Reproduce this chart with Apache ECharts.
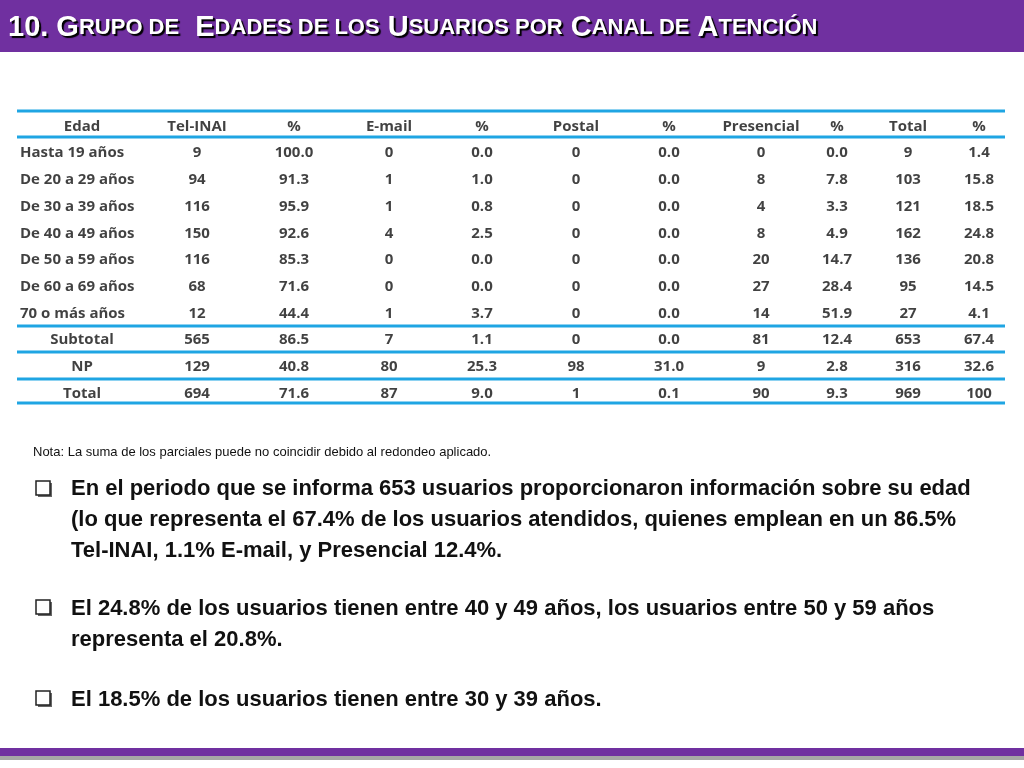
<!DOCTYPE html>
<html><head><meta charset="utf-8">
<script src="https://cdn.jsdelivr.net/npm/echarts@6/dist/echarts.min.js"></script>
<style>html,body{margin:0;padding:0;background:#fff}#c{width:1024px;height:768px}</style>
</head><body><div id="c"></div>
<script>
const headers = ['Edad','Tel-INAI','%','E-mail','%','Postal','%','Presencial','%','Total','%'];
const rowLabels = ['Hasta 19 años','De 20 a 29 años','De 30 a 39 años','De 40 a 49 años','De 50 a 59 años','De 60 a 69 años','70 o más años','Subtotal','NP','Total'];
const telInai = [9,94,116,150,116,68,12,565,129,694];
const telPct = ['100.0','91.3','95.9','92.6','85.3','71.6','44.4','86.5','40.8','71.6'];
const email = [0,1,1,4,0,0,1,7,80,87];
const emailPct = ['0.0','1.0','0.8','2.5','0.0','0.0','3.7','1.1','25.3','9.0'];
const postal = [0,0,0,0,0,0,0,0,98,1];
const postalPct = ['0.0','0.0','0.0','0.0','0.0','0.0','0.0','0.0','31.0','0.1'];
const presencial = [0,8,4,8,20,27,14,81,9,90];
const presPct = ['0.0','7.8','3.3','4.9','14.7','28.4','51.9','12.4','2.8','9.3'];
const total = [9,103,121,162,136,95,27,653,316,969];
const totalPct = ['1.4','15.8','18.5','24.8','20.8','14.5','4.1','67.4','32.6','100'];

// layout (pixel column centres on a 0..1024 value axis)
const colX = [82,197,294,389,482,576,669,761,837,908,979];
const leftX = 20;
const columns = [rowLabels, telInai, telPct, email, emailPct, postal, postalPct, presencial, presPct, total, totalPct];
const rowsCat = ['h'].concat(rowLabels.map((_, i) => 'r' + i));

const cellsCenter = [], cellsLeft = [];
headers.forEach((h, c) => cellsCenter.push({value:[colX[c], 'h'], label:h}));
columns.forEach((col, c) => col.forEach((v, r) => {
  if (c === 0 && r < 7) cellsLeft.push({value:[leftX, 'r'+r], label:String(v)});
  else cellsCenter.push({value:[colX[c], 'r'+r], label:String(v)});
}));

const F = '"Open Sans", "Liberation Sans", sans-serif';
const lbl = (align) => ({show:true, position:'inside', align:align, verticalAlign:'middle',
  formatter:p=>p.data.label, fontFamily:F, fontWeight:'bold', fontSize:15, color:'#111'});

const blue = '#1fa5e3';
const hline = (y, w) => ({type:'line', shape:{x1:17,y1:y,x2:1005,y2:y}, style:{stroke:blue, lineWidth:w}});
const bulletSq = (y) => ({type:'group', children:[
  {type:'rect', shape:{x:38,y:y-5,width:14,height:14}, style:{fill:'#666'}},
  {type:'rect', shape:{x:36,y:y-7,width:14,height:14}, style:{fill:'#fff', stroke:'#222', lineWidth:1.5}}
]});
const txt = (x, y, s, size, weight) => ({type:'text', x:x, y:y, style:{text:s, fontFamily:'"Liberation Sans", Arial, sans-serif', fontSize:size, fontWeight:weight, fill:'#111', verticalAlign:'middle'}});
const sh = {fill:'#fff', textShadowColor:'#000', textShadowOffsetX:2, textShadowOffsetY:2, textShadowBlur:1, fontFamily:'"Liberation Sans", Arial', fontWeight:'bold'};

const chart = echarts.init(document.getElementById('c'));
chart.setOption({
  animation:false,
  grid:{left:0, right:0, top:113, height:294},
  xAxis:{type:'value', min:0, max:1024, show:false},
  yAxis:{type:'category', data:rowsCat, inverse:true, show:false},
  series:[
    {type:'scatter', symbolSize:0, data:cellsCenter, label:lbl('center')},
    {type:'scatter', symbolSize:0, data:cellsLeft, label:lbl('left')}
  ],
  graphic:[
    {type:'rect', shape:{x:0,y:0,width:1024,height:52}, style:{fill:'#7030a0'}},
    {type:'text', x:8, y:28, style:{
      text:'{b|10. G}{s|RUPO DE}{b|  E}{s|DADES DE LOS}{b| U}{s|SUARIOS POR}{b| C}{s|ANAL DE}{b| A}{s|TENCIÓN}',
      verticalAlign:'middle',
      rich:{b:Object.assign({fontSize:29}, sh), s:Object.assign({fontSize:22}, sh)}}},
    hline(111,3), hline(137,3), hline(326,3), hline(352,3), hline(379,3), hline(403,3),
    txt(33, 452, 'Nota: La suma de los parciales puede no coincidir debido al redondeo aplicado.', 13, 'normal'),
    bulletSq(488), bulletSq(607), bulletSq(698),
    txt(71, 489, 'En el periodo que se informa 653 usuarios proporcionaron información sobre su edad', 22, 'bold'),
    txt(71, 520, '(lo que representa el 67.4% de los usuarios atendidos, quienes emplean en un 86.5%', 22, 'bold'),
    txt(71, 551, 'Tel-INAI, 1.1% E-mail, y Presencial 12.4%.', 22, 'bold'),
    txt(71, 609, 'El 24.8% de los usuarios tienen entre 40 y 49 años, los usuarios entre 50 y 59 años', 22, 'bold'),
    txt(71, 640, 'representa el 20.8%.', 22, 'bold'),
    txt(71, 700, 'El 18.5% de los usuarios tienen entre 30 y 39 años.', 22, 'bold'),
    {type:'rect', shape:{x:0,y:748,width:1024,height:8}, style:{fill:'#7030a0'}},
    {type:'rect', shape:{x:0,y:756,width:1024,height:4}, style:{fill:'#a6a6a6'}}
  ]
});
</script></body></html>
